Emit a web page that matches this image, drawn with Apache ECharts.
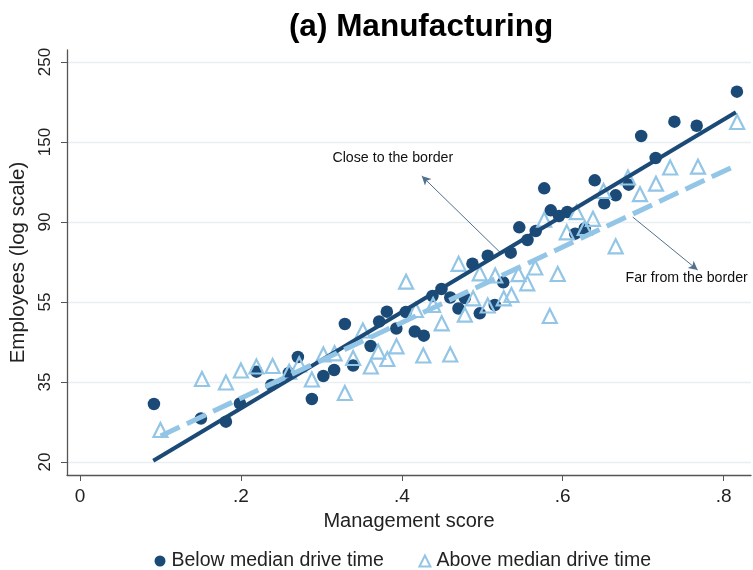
<!DOCTYPE html>
<html>
<head>
<meta charset="utf-8">
<script src="https://cdn.jsdelivr.net/npm/echarts@6/dist/echarts.min.js"></script>
<style>html,body{margin:0;padding:0;background:#fff}#c{width:753px;height:570px}</style>
</head>
<body>
<div id="c"></div>
<script>
// Management score (x) and log(employees) (y) per bin
const belowX = [0.0919,0.1503,0.1814,0.1988,0.2193,0.2379,0.2596,0.2708,0.2882,0.3025,0.3159,0.3292,0.3395,0.3612,0.3718,0.3814,0.3932,0.4050,0.4161,0.4273,0.4381,0.4493,0.4602,0.4704,0.4783,0.4878,0.4969,0.5068,0.5155,0.5261,0.5354,0.5460,0.5562,0.5665,0.5770,0.5851,0.5954,0.6056,0.6155,0.6273,0.6398,0.6516,0.6658,0.6820,0.6975,0.7155,0.7388,0.7665,0.8165];
const belowLogEmp = [3.3625,3.2719,3.2519,3.3656,3.5644,3.4813,3.5563,3.6563,3.3938,3.5375,3.575,3.8625,3.6031,3.725,3.8781,3.9394,3.8344,3.9375,3.8156,3.7894,4.0375,4.0813,4.0281,3.9594,4.025,4.2394,3.9294,4.2894,3.9813,4.1231,4.3081,4.4669,4.3875,4.4438,4.7106,4.5731,4.5375,4.5625,4.4269,4.4594,4.7606,4.6169,4.6669,4.7331,5.0375,4.9,5.1269,5.1013,5.3144];
const aboveX = [0.1000,0.1516,0.1814,0.2000,0.2193,0.2394,0.2600,0.2724,0.2882,0.3025,0.3164,0.3292,0.3395,0.3516,0.3615,0.3706,0.3820,0.3934,0.4053,0.4174,0.4267,0.4389,0.4496,0.4602,0.4706,0.4783,0.4886,0.4969,0.5068,0.5161,0.5267,0.5363,0.5451,0.5559,0.5658,0.5770,0.5839,0.5938,0.6050,0.6174,0.6273,0.6376,0.6507,0.6658,0.6811,0.6960,0.7159,0.7335,0.7681,0.8168];
const aboveLogEmp = [3.2,3.5188,3.4969,3.5719,3.5969,3.6,3.5644,3.6106,3.5156,3.6719,3.6794,3.4313,3.65,3.8219,3.5969,3.6894,3.6438,3.7231,4.1269,3.95,3.6656,3.9813,3.8669,3.6719,4.2388,3.9206,4.0231,4.1794,3.9781,4.1656,4.0231,4.0438,4.1738,4.1169,4.2156,4.5144,3.9125,4.175,4.4356,4.5613,4.4625,4.52,4.6938,4.3481,4.7781,4.6738,4.7394,4.8406,4.8456,5.125];
// Fitted lines (end points)
const fitBelowX = [0.0911,0.8152];
const fitBelowY = [3.008,5.186];
const fitAboveX = [0.1002,0.8165];
const fitAboveY = [3.1625,4.8563];
// Axis ticks
const xTicks = [0,0.2,0.4,0.6,0.8];
const xTickLabels = ['0','.2','.4','.6','.8'];
const yTicks = [3,3.5,4,4.5,5,5.5];
const yTickLabels = ['20','35','55','90','150','250'];

const DARK = '#1b4a77';
const LIGHT = '#93c5e6';
const FONT = 'Liberation Sans, Arial, sans-serif';

const zip = (a,b)=>a.map((v,i)=>[v,b[i]]);
const chart = echarts.init(document.getElementById('c'), null, {renderer:'canvas'});
chart.setOption({
  animation:false,
  backgroundColor:'#fff',
  textStyle:{fontFamily:FONT},
  title:{text:'(a) Manufacturing', left:416, top:6, textAlign:'center',
    textStyle:{fontFamily:FONT, fontSize:31.5, fontWeight:'bold', color:'#000'}},
  grid:{left:67, right:2, top:50, bottom:95},
  legend:{top:546, left:149.5, itemGap:34.5, itemWidth:11, itemHeight:11,
    textStyle:{fontFamily:FONT, fontSize:19.5, color:'#222', padding:[0,0,0,1]},
    data:['Below median drive time','Above median drive time']},
  xAxis:{type:'value', min:-0.01615, max:0.834,
    name:'Management score', nameLocation:'middle', nameGap:36,
    nameTextStyle:{fontFamily:FONT, fontSize:20, color:'#222'},
    axisLine:{show:true, onZero:false, lineStyle:{color:'#555', width:1.3}},
    axisTick:{show:true, length:6, lineStyle:{color:'#555'}, customValues:xTicks},
    axisLabel:{customValues:xTicks, fontFamily:FONT, fontSize:19, color:'#222', margin:12,
      formatter:v=>{const i=xTicks.findIndex(t=>Math.abs(t-v)<1e-6);return i>=0?xTickLabels[i]:'';}},
    splitLine:{show:false}},
  yAxis:{type:'value', min:2.91875, max:5.575,
    name:'Employees (log scale)', nameLocation:'middle', nameGap:28, nameRotate:90,
    nameTextStyle:{fontFamily:FONT, fontSize:20.5, color:'#222'},
    axisLine:{show:true, onZero:false, lineStyle:{color:'#555', width:1.3}},
    axisTick:{show:true, length:6, lineStyle:{color:'#555'}, customValues:yTicks},
    axisLabel:{customValues:yTicks, rotate:90, fontFamily:FONT, fontSize:17, color:'#222', margin:13,
      formatter:v=>{const i=yTicks.findIndex(t=>Math.abs(t-v)<1e-6);return i>=0?yTickLabels[i]:'';}},
    splitLine:{show:true, lineStyle:{color:'#e9eef1', width:1.3}}},
  series:[
    {name:'Below median drive time', type:'scatter', symbol:'circle', symbolSize:12.5, z:3,
      itemStyle:{color:DARK, opacity:1}, data:zip(belowX,belowLogEmp)},
    {name:'Above median drive time', type:'scatter', symbol:'triangle', symbolSize:14, z:4,
      itemStyle:{color:'rgba(0,0,0,0)', borderColor:LIGHT, borderWidth:2.2, opacity:1},
      data:zip(aboveX,aboveLogEmp)},
    {name:'fitBelow', type:'line', z:5, symbol:'none', silent:true,
      lineStyle:{color:DARK, width:4}, data:zip(fitBelowX,fitBelowY),
      markLine:{silent:true, symbol:['none','arrow'], symbolSize:[7,9], label:{show:false},
        lineStyle:{color:'#52708f', width:1, type:'solid'},
        data:[[{coord:[0.523,4.306]},{coord:[0.4248,4.7875]}]]},
      markPoint:{silent:true, symbol:'circle', symbolSize:0,
        data:[{coord:[0.3888,4.9], label:{show:true, formatter:'Close to the border', fontFamily:FONT, fontSize:14.2, color:'#111'}}]}},
    {name:'fitAbove', type:'line', z:6, symbol:'none', silent:true,
      lineStyle:{color:LIGHT, width:5, type:[21,8], cap:'butt'}, data:zip(fitAboveX,fitAboveY),
      markLine:{silent:true, symbol:['none','arrow'], symbolSize:[7,9], label:{show:false},
        lineStyle:{color:'#52708f', width:1, type:'solid'},
        data:[[{coord:[0.687,4.531]},{coord:[0.7677,4.2]}]]},
      markPoint:{silent:true, symbol:'circle', symbolSize:0,
        data:[{coord:[0.754,4.15], label:{show:true, formatter:'Far from the border', fontFamily:FONT, fontSize:14.2, color:'#111'}}]}}
  ]
});
</script>
</body>
</html>
